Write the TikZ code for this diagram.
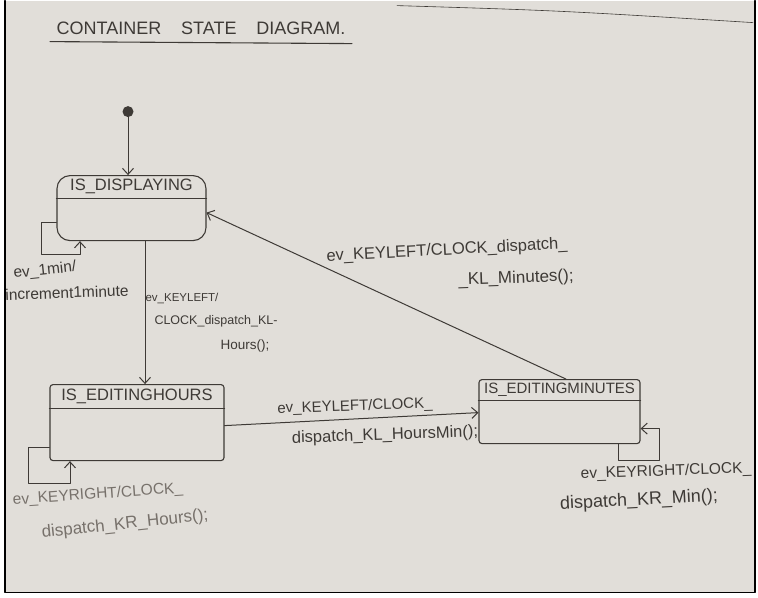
\documentclass[tikz,border=0pt]{standalone}
\usepackage{fontspec}
\setmainfont{Liberation Sans}
\usetikzlibrary{arrows.meta}
\definecolor{paper}{HTML}{E1DED9}
\definecolor{pencil}{HTML}{3E3A36}
\definecolor{pencillight}{HTML}{77716B}
\tikzset{
  statebox/.style={draw=pencil, line width=1.1pt, inner sep=0pt},
  statename/.style={inner sep=0pt, text=pencil, font=\fontsize{#1}{#1}\selectfont},
  trans/.style={draw=pencil, line width=1pt, ->},
  lbl/.style={inner sep=0pt, text=pencil, font=\fontsize{#1}{#1}\selectfont},
  initdot/.style={circle, fill=pencil, inner sep=0pt, minimum size=11pt}
}
\begin{document}
\begin{tikzpicture}[x=1pt,y=-1pt,line cap=round,line join=round,>={Straight Barb[length=6pt,width=11pt]}]
  % paper and frame
  \fill[white] (0,0) rectangle (758,597);
  \fill[paper] (5,0) rectangle (755,592);
  \draw[black,line width=1.2pt] (5,0) -- (5,592) -- (755,592) -- (755,0);
  \draw[pencil,line width=0.6pt] (397,5) .. controls (560,10) .. (753,22);
  % title
  \node[lbl=18] (ttl) at (201,28) {CONTAINER\hspace{1.1em}STATE\hspace{1.1em}DIAGRAM.};
  \draw[pencil,line width=1.1pt] (50,41) -- (352,43);

  % states
  \node[statebox, rounded corners=13pt, minimum width=149pt, minimum height=65pt] (disp) at (131.5,207.5) {};
  \node[statename=16.5, minimum width=149pt, minimum height=23pt, anchor=north] (dispname) at (disp.north) {IS\_DISPLAYING};
  \draw[pencil,line width=1.1pt] (dispname.south -| disp.west) -- (dispname.south -| disp.east);

  \node[statebox, rounded corners=3pt, minimum width=174pt, minimum height=76pt] (hours) at (137,422) {};
  \node[statename=16.5, minimum width=174pt, minimum height=24pt, anchor=north] (hoursname) at (hours.north) {IS\_EDITINGHOURS};
  \draw[pencil,line width=1.1pt] (hoursname.south -| hours.west) -- (hoursname.south -| hours.east);

  \node[statebox, rounded corners=3pt, minimum width=161pt, minimum height=64pt] (mins) at (559.5,411) {};
  \node[statename=15, minimum width=161pt, minimum height=21pt, anchor=north] (minsname) at (mins.north) {IS\_EDITINGMINUTES};
  \draw[pencil,line width=1.1pt] (minsname.south -| mins.west) -- (minsname.south -| mins.east);

  % initial state
  \node[initdot] (init) at (128,111) {};
  \draw[trans] (init) -- (init |- disp.north);

  % transitions
  \draw[trans] ([xshift=13.5pt]disp.south) -- ([xshift=13.5pt]disp.south |- hours.north);
  \draw[trans] ([yshift=-3pt]hours.east) -- ([yshift=-1pt]mins.west);
  \draw[trans] ([xshift=6.5pt]mins.north) -- ([yshift=-4.5pt]disp.east);

  % self loops
  \draw[trans] ([yshift=-14.5pt]disp.west) -- ++(-15,0) -- ++(0,32) -| ([xshift=-51.5pt]disp.south);
  \draw[trans] ([yshift=-25pt]hours.west) -- ++(-21,0) -- ++(0,36) -| ([xshift=-67pt]hours.south);
  \draw[trans] ([xshift=58.5pt]mins.south) -- ++(0,16) -- ++(41,0) |- ([yshift=-17pt]mins.east);

  % labels
  \node[lbl=15.5, rotate=6] (l1a) at (45,270) {ev\_1min/};
  \node[lbl=15.5, rotate=2] (l1b) at (67,292) {increment1minute};
  \node[lbl=11.5] (l2a) at (182,298) {ev\_KEYLEFT/};
  \node[lbl=12.5] (l2b) at (216,321) {CLOCK\_dispatch\_KL-};
  \node[lbl=13.5] (l2c) at (245,345) {Hours();};
  \node[lbl=16.5, rotate=3] (l3a) at (447,250) {ev\_KEYLEFT/CLOCK\_dispatch\_};
  \node[lbl=17, rotate=2] (l3b) at (516,278) {\_KL\_Minutes();};
  \node[lbl=15, rotate=2] (l4a) at (355,406) {ev\_KEYLEFT/CLOCK\_};
  \node[lbl=16.5, rotate=2] (l4b) at (385,435) {dispatch\_KL\_HoursMin();};
  \node[lbl=15.5, rotate=4, text=pencillight] (l5a) at (98,494) {ev\_KEYRIGHT/CLOCK\_};
  \node[lbl=17, rotate=6, text=pencillight] (l5b) at (125,524) {dispatch\_KR\_Hours();};
  \node[lbl=15.5, rotate=2] (l6a) at (666,471) {ev\_KEYRIGHT/CLOCK\_};
  \node[lbl=18, rotate=3] (l6b) at (639,500) {dispatch\_KR\_Min();};
\end{tikzpicture}
\end{document}
